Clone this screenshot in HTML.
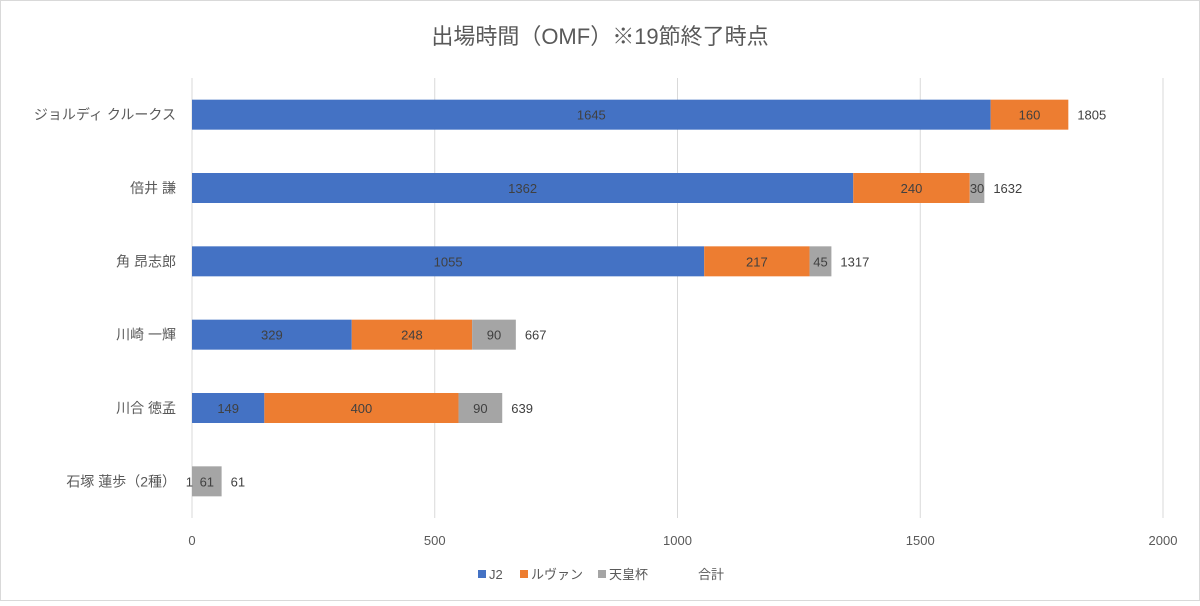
<!DOCTYPE html>
<html><head><meta charset="utf-8"><style>
body{margin:0;background:#fff;}
svg text{font-family:"Liberation Sans","Noto Sans CJK JP",sans-serif;}
</style></head><body>
<svg width="1200" height="601" xmlns="http://www.w3.org/2000/svg">
<rect x="0.5" y="0.5" width="1199" height="600" fill="#fff" stroke="#d9d9d9"/>
<text x="600" y="44" text-anchor="middle" font-size="22" fill="#595959">出場時間（OMF）※19節終了時点</text>
<g id="grid"></g><g id="bars"></g><g id="labels"></g>
<g>
<rect x="478" y="570" width="8" height="8" fill="#4472c4"/>
<text x="489" y="579" font-size="13" fill="#595959">J2</text>
<rect x="520" y="570" width="8" height="8" fill="#ed7d31"/>
<text x="531" y="579" font-size="13" fill="#595959">ルヴァン</text>
<rect x="598" y="570" width="8" height="8" fill="#a5a5a5"/>
<text x="609" y="579" font-size="13" fill="#595959">天皇杯</text>
<text x="698" y="579" font-size="13" fill="#595959">合計</text>
</g>
</svg>
<script>
const categories=["ジョルディ クルークス","倍井 謙","角 昂志郎","川崎 一輝","川合 徳孟","石塚 蓮歩（2種）"];
const j2=[1645,1362,1055,329,149,0];
const levain=[160,240,217,248,400,0];
const emperor=[0,30,45,90,90,61];
const ticks=[0,500,1000,1500,2000];
const NS="http://www.w3.org/2000/svg";
const plotX0=192,plotX1=1163,plotTop=78,plotBottom=518;
const xs=v=>plotX0+(plotX1-plotX0)*v/2000;
const band=(plotBottom-plotTop)/categories.length;
const yc=i=>plotTop+band*(i+0.5);
function mk(tag,attrs,parent,txt){const e=document.createElementNS(NS,tag);for(const k in attrs)e.setAttribute(k,attrs[k]);if(txt!==undefined)e.textContent=txt;document.getElementById(parent).appendChild(e);return e;}
ticks.forEach(t=>{
 const l=mk('line',{x1:xs(t),x2:xs(t),y1:plotTop,y2:plotBottom,stroke:'#d9d9d9'},'grid');
 
 
 const tx=mk('text',{x:xs(t),y:545,'text-anchor':'middle','font-size':13,fill:'#595959'},'grid',String(t));
 
 
});
const series=[{d:j2,c:'#4472c4',n:'j2'},{d:levain,c:'#ed7d31',n:'levain'},{d:emperor,c:'#a5a5a5',n:'emperor'}];
categories.forEach((cat,i)=>{
 const y=yc(i);
 const ct=mk('text',{x:176,y:y+5,'text-anchor':'end','font-size':14,fill:'#595959'},'labels',cat);
 
 
 let acc=0;
 series.forEach(s=>{
  const v=s.d[i];
  if(v>0){
   const r=mk('rect',{x:xs(acc),y:y-15,width:xs(acc+v)-xs(acc),height:30,fill:s.c},'bars');
   
   
   const t=mk('text',{x:(xs(acc)+xs(acc+v))/2,y:y+5,'text-anchor':'middle','font-size':13,fill:'#404040'},'labels',String(v));
   
   
  } else if(s.n==='j2'){
   const t=mk('text',{x:xs(acc)+1,y:y+5,'text-anchor':'end','font-size':13,fill:'#404040'},'labels','1');
   
   
  }
  acc+=v;
 });
 const tt=mk('text',{x:xs(acc)+9,y:y+5,'font-size':13,fill:'#404040'},'labels',String(acc));
 
 
});
</script>
</body></html>
